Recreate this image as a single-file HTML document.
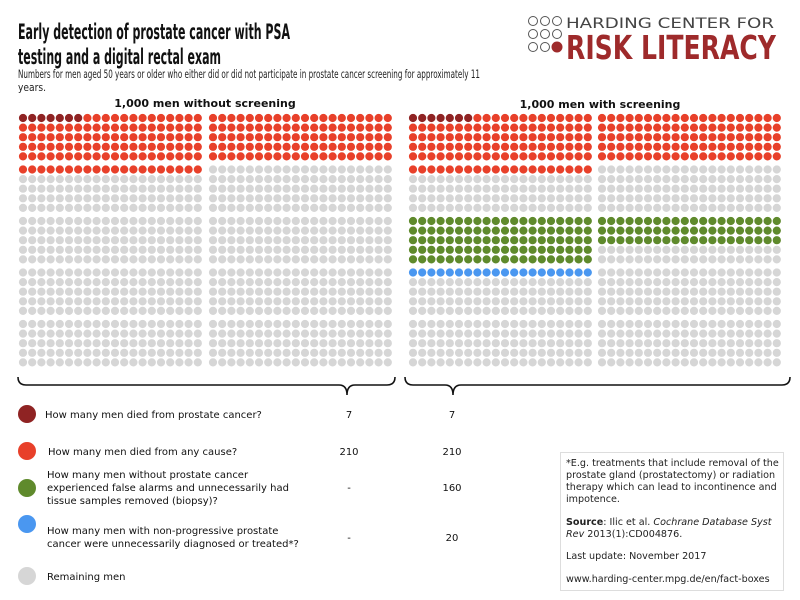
<!DOCTYPE html>
<html><head><meta charset="utf-8"><style>
body{margin:0;background:#fff;}
svg{display:block;font-family:"DejaVu Sans","Liberation Sans",sans-serif;}
</style></head><body>
<svg id="chart" width="800" height="600" viewBox="0 0 800 600">
  <g>
    <text x="18" y="39" font-size="21" font-weight="bold" fill="#111" textLength="272" lengthAdjust="spacingAndGlyphs">Early detection of prostate cancer with PSA</text>
    <text x="18" y="64" font-size="21" font-weight="bold" fill="#111" textLength="203" lengthAdjust="spacingAndGlyphs">testing and a digital rectal exam</text>
    <text x="18" y="78" font-size="11.5" fill="#222" textLength="462" lengthAdjust="spacingAndGlyphs">Numbers for men aged 50 years or older who either did or did not participate in prostate cancer screening for approximately 11</text>
    <text x="18" y="91" font-size="11" fill="#222" textLength="28" lengthAdjust="spacingAndGlyphs">years.</text>
    <text x="205" y="107" font-size="11" font-weight="bold" text-anchor="middle" fill="#111">1,000 men without screening</text>
    <text x="600" y="108" font-size="11" font-weight="bold" text-anchor="middle" fill="#111">1,000 men with screening</text>
  </g>
  <g fill="none" stroke="#555" stroke-width="1">
    <circle cx="533" cy="21" r="4.5"/><circle cx="545" cy="21" r="4.5"/><circle cx="557" cy="21" r="4.5"/>
    <circle cx="533" cy="34" r="4.5"/><circle cx="545" cy="34" r="4.5"/><circle cx="557" cy="34" r="4.5"/>
    <circle cx="533" cy="47" r="4.5"/><circle cx="545" cy="47" r="4.5"/><circle cx="557" cy="47" r="5" fill="#9e2a2b" stroke="#9e2a2b"/>
    <text x="566" y="28" font-size="14" fill="#444" stroke="none" textLength="208" lengthAdjust="spacingAndGlyphs">HARDING CENTER FOR</text>
    <text x="566" y="59" font-size="33" font-weight="bold" fill="#9e2a2b" stroke="none" textLength="210" lengthAdjust="spacingAndGlyphs">RISK LITERACY</text>
  </g>
  <g id="dots"></g>
  <g fill="none" stroke="#111" stroke-width="1.6">
    <path d="M18,377 Q18,385 26,385 L339,385 Q347,385 347,395 Q347,385 355,385 L387,385 Q395,385 395,377"/>
    <path d="M405,377 Q405,385 413,385 L445,385 Q453,385 453,395 Q453,385 461,385 L782,385 Q790,385 790,377"/>
  </g>
  <g id="legend" font-size="10" fill="#111"></g>
  <g>
    <rect x="560.5" y="452.5" width="223" height="138" fill="#fff" stroke="#ddd"/>
    <g font-size="9.6" fill="#222">
      <text x="566" y="466">*E.g. treatments that include removal of the</text>
      <text x="566" y="478">prostate gland (prostatectomy) or radiation</text>
      <text x="566" y="490">therapy which can lead to incontinence and</text>
      <text x="566" y="502">impotence.</text>
      <text x="566" y="525"><tspan font-weight="bold">Source</tspan>: Ilic et al. <tspan font-style="italic">Cochrane Database Syst</tspan></text>
      <text x="566" y="537"><tspan font-style="italic">Rev</tspan> 2013(1):CD004876.</text>
      <text x="566" y="559">Last update: November 2017</text>
      <text x="566" y="582">www.harding-center.mpg.de/en/fact-boxes</text>
    </g>
  </g>
</svg>
<script>
// data
const panels = ["without screening", "with screening"];
const diedProstate = [7, 7];
const diedAny = [210, 210];
const falseAlarms = [0, 160];
const overdiagnosed = [0, 20];
const legendLabels = [
  ["How many men died from prostate cancer?"],
  ["How many men died from any cause?"],
  ["How many men without prostate cancer","experienced false alarms and unnecessarily had","tissue samples removed (biopsy)?"],
  ["How many men with non-progressive prostate","cancer were unnecessarily diagnosed or treated*?"],
  ["Remaining men"]
];
const valueLabels = [["7","7"],["210","210"],["-","160"],["-","20"],["",""]];

// layout
const colors = {dark:"#8f2323", red:"#e8402a", green:"#5f8a2c", blue:"#4a97f0", grey:"#d6d6d6"};
const panelX = [[23,213],[413,602]];
const pitchX = 9.2, pitchY = 9.6, r = 4.1;
function xPos(p, col, i){ return panelX[p][col] + i*pitchX; }
function yPos(row){ return 118 + row*pitchY + Math.floor(row/5)*3.5; }

const svgNS = "http://www.w3.org/2000/svg";
const dotsG = document.getElementById('dots');
for (let p = 0; p < 2; p++) {
  const grid = [[],[]];
  for (let c=0;c<2;c++) for (let rr=0;rr<25;rr++){ grid[c][rr]=new Array(20).fill('grey'); }
  function fill(seq, count, color){
    let n = count;
    for (const [c, rr] of seq){ for (let i=0;i<20 && n>0;i++){ grid[c][rr][i]=color; n--; } if(n<=0)break; }
  }
  const redSeq = [];
  for (let rr=0; rr<6; rr++) redSeq.push([0,rr]);
  for (let rr=0; rr<10; rr++) redSeq.push([1,rr]);
  // partial rows are drawn as whole rows, as in the original graphic
  fill(redSeq, Math.ceil(diedAny[p]/20)*20, 'red');
  fill(redSeq, diedProstate[p], 'dark');
  const greenSeq = [];
  for (let rr=10; rr<15; rr++) greenSeq.push([0,rr]);
  for (let rr=10; rr<15; rr++) greenSeq.push([1,rr]);
  fill(greenSeq, falseAlarms[p], 'green');
  const blueSeq = [[0,15],[0,16],[1,15]];
  fill(blueSeq, overdiagnosed[p], 'blue');
  for (let c=0;c<2;c++) for (let rr=0;rr<25;rr++) for (let i=0;i<20;i++){
    const el = document.createElementNS(svgNS,'circle');
    el.setAttribute('cx', xPos(p,c,i));
    el.setAttribute('cy', yPos(rr));
    el.setAttribute('r', r);
    el.setAttribute('fill', colors[grid[c][rr][i]]);
    
    
    dotsG.appendChild(el);
  }
}

// legend
const legG = document.getElementById('legend');
const legColors = [colors.dark, colors.red, colors.green, colors.blue, colors.grey];
const legY = [414, 451, 488, 524, 576];
const textY = [[418],[455],[478,491,504],[534,547],[580]];
const textX = [45,48,47,47,47];
for (let k=0;k<5;k++){
  const c = document.createElementNS(svgNS,'circle');
  c.setAttribute('cx',27); c.setAttribute('cy',legY[k]); c.setAttribute('r',9);
  c.setAttribute('fill',legColors[k]);
  
  
  legG.appendChild(c);
  legendLabels[k].forEach((line,j)=>{
    const t = document.createElementNS(svgNS,'text');
    t.setAttribute('x',textX[k]); t.setAttribute('y',textY[k][j]);
    t.textContent = line;
    
    
    legG.appendChild(t);
  });
  const ny = textY[k].length===3 ? textY[k][1] : (textY[k].length===2 ? 541 : textY[k][0]);
  [349,452].forEach((nx,p)=>{
    const t = document.createElementNS(svgNS,'text');
    t.setAttribute('x',nx); t.setAttribute('y',ny);
    t.setAttribute('text-anchor','middle');
    t.textContent = valueLabels[k][p];
    
    
    legG.appendChild(t);
  });
}
</script>
</body></html>
